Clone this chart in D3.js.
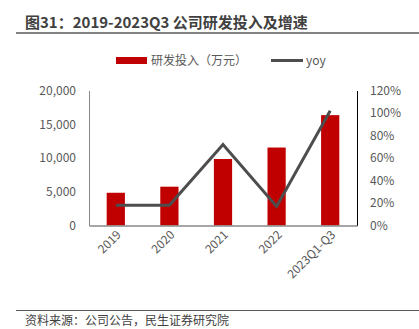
<!DOCTYPE html>
<html><head><meta charset="utf-8">
<script src="https://cdn.jsdelivr.net/npm/d3@7"></script>
<style>body{margin:0;background:#fff}svg{display:block}text{font-family:"Microsoft YaHei","Noto Sans CJK SC",sans-serif}</style>
</head><body><svg id="c" width="419" height="329"></svg>
<script>
const categories = ["2019","2020","2021","2022","2023Q1-Q3"];
const rdValues = [4850, 5750, 9850, 11550, 16350];
const yoyValues = [0.18, 0.18, 0.72, 0.17, 1.02];
const leftTicks = [0, 5000, 10000, 15000, 20000];
const rightTicks = [0, 0.2, 0.4, 0.6, 0.8, 1.0, 1.2];
const title = "图31：2019-2023Q3 公司研发投入及增速";
const source = "资料来源：公司公告，民生证券研究院";
const legendLabels = ["研发投入（万元）", "yoy"];

const svg = d3.select("#c");
const L = 89, R = 357, T = 90.5, B = 225.5;
const x = d3.scaleBand().domain(categories).range([L, R]).paddingInner(0.66).paddingOuter(0.33);
const yL = d3.scaleLinear().domain([0, 20000]).range([B, T]);
const yR = d3.scaleLinear().domain([0, 1.2]).range([B, T]);
const grey = "#595959";

svg.append("text").attr("x", 25).attr("y", 28).attr("font-size", 15).attr("font-weight", "bold").attr("fill", "#404040").text(title);
svg.append("line").attr("x1", 16).attr("x2", 419).attr("y1", 33).attr("y2", 33).attr("stroke", grey).attr("stroke-width", 1.5);

// legend
svg.append("rect").attr("x", 116).attr("y", 57).attr("width", 31).attr("height", 7).attr("fill", "#C00000");
svg.append("text").attr("x", 151).attr("y", 65).attr("font-size", 12).attr("fill", grey).text(legendLabels[0]);
svg.append("line").attr("x1", 271).attr("x2", 303).attr("y1", 60.5).attr("y2", 60.5).attr("stroke", "#4d4d4d").attr("stroke-width", 3);
svg.append("text").attr("x", 306).attr("y", 65).attr("font-size", 12).attr("fill", grey).text(legendLabels[1]);

// bars
svg.selectAll("rect.bar").data(rdValues).join("rect").attr("class","bar")
  .attr("x", (d,i) => x(categories[i])).attr("width", x.bandwidth())
  .attr("y", d => yL(d)).attr("height", d => B - yL(d)).attr("fill", "#C00000");

// axes
const gl = svg.append("g").attr("transform", `translate(${L},0)`)
  .call(d3.axisLeft(yL).tickValues(leftTicks).tickSize(0).tickPadding(13).tickFormat(d3.format(",")));
gl.select(".domain").attr("stroke", "#888").attr("stroke-width", 1);
gl.selectAll("text").attr("font-size", 12).attr("fill", grey).attr("font-family", "'Noto Sans','Microsoft YaHei',sans-serif");

const gr = svg.append("g").attr("transform", `translate(${R},0)`)
  .call(d3.axisRight(yR).tickValues(rightTicks).tickSize(0).tickPadding(13).tickFormat(d3.format(".0%")));
gr.select(".domain").attr("stroke", "#000").attr("stroke-width", 1);
gr.selectAll("text").attr("font-size", 12).attr("fill", grey).attr("font-family", "'Noto Sans','Microsoft YaHei',sans-serif");

const gb = svg.append("g").attr("transform", `translate(0,${B})`)
  .call(d3.axisBottom(x).tickSize(0).tickPadding(0));
gb.select(".domain").attr("stroke", "#888").attr("stroke-width", 1.5);
gb.selectAll("text").attr("font-size", 12).attr("fill", grey).attr("font-family", "'Noto Sans','Microsoft YaHei',sans-serif")
  .attr("text-anchor", "end").attr("dy", null)
  .attr("transform", "translate(6,10) rotate(-45)");

// line
const line = d3.line().x((d,i) => x(categories[i]) + x.bandwidth()/2).y(d => yR(d));
svg.append("path").datum(yoyValues).attr("d", line).attr("fill", "none").attr("stroke", "#4d4d4d").attr("stroke-width", 3).attr("stroke-linejoin", "miter");

// footer
svg.append("line").attr("x1", 16).attr("x2", 419).attr("y1", 310.5).attr("y2", 310.5).attr("stroke", grey).attr("stroke-width", 1.2);
svg.append("text").attr("x", 25).attr("y", 325).attr("font-size", 12).attr("fill", "#404040").text(source);
</script></body></html>
